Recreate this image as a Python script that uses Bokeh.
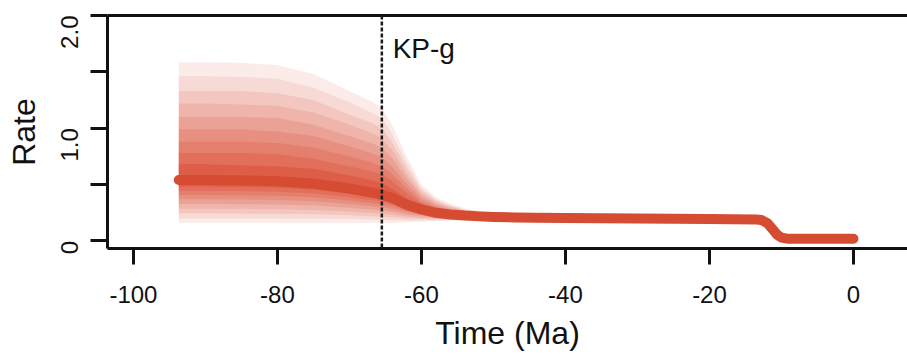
import math
from bokeh.plotting import figure
from bokeh.models import Range1d, FixedTicker, LinearAxis, Span, Label
from bokeh.embed import file_html
from bokeh.resources import INLINE

# Median rate through time (Ma, negative = past)
time = [-93.7, -90, -85, -80, -75, -70, -67, -65.5, -64, -62, -60, -58, -56, -54,
        -52, -50, -47, -44, -40, -30, -20, -13.5, -12.8, -12, -11.3, -10.6, -10,
        -9.2, -5, 0]
rate_median = [0.54, 0.54, 0.538, 0.53, 0.51, 0.465, 0.43, 0.41, 0.38, 0.32, 0.28,
               0.25, 0.235, 0.225, 0.218, 0.213, 0.208, 0.205, 0.203, 0.2, 0.195,
               0.19, 0.185, 0.16, 0.11, 0.055, 0.03, 0.02, 0.02, 0.02]

# Posterior envelopes, band 1 = widest (outermost) ... band 9 = narrowest
band_time = [-93.7, -90, -85, -80, -75, -70, -67, -65.5, -64, -62, -60, -58, -56,
             -54, -52, -50, -47, -44, -40]
upper_1 = [1.585, 1.585, 1.58, 1.56, 1.48, 1.33, 1.24, 1.18, 1.02, 0.74, 0.50, 0.39,
           0.33, 0.29, 0.27, 0.255, 0.24, 0.23, 0.215]
lower_1 = [0.16, 0.16, 0.16, 0.16, 0.16, 0.16, 0.16, 0.16, 0.16, 0.165, 0.17, 0.175,
           0.18, 0.185, 0.19, 0.19, 0.19, 0.195, 0.195]
upper_2 = [1.46, 1.46, 1.455, 1.44, 1.36, 1.23, 1.14, 1.09, 0.94, 0.69, 0.47, 0.37,
           0.32, 0.28, 0.264, 0.25, 0.236, 0.227, 0.214]
lower_2 = [0.20, 0.20, 0.20, 0.20, 0.198, 0.194, 0.19, 0.187, 0.184, 0.182, 0.182,
           0.183, 0.186, 0.189, 0.193, 0.193, 0.192, 0.196, 0.196]
upper_3 = [1.33, 1.33, 1.33, 1.31, 1.25, 1.12, 1.05, 1.0, 0.87, 0.64, 0.45, 0.356,
           0.307, 0.274, 0.258, 0.245, 0.232, 0.224, 0.212]
lower_3 = [0.245, 0.245, 0.243, 0.241, 0.237, 0.227, 0.219, 0.215, 0.208, 0.199,
           0.194, 0.191, 0.192, 0.194, 0.196, 0.195, 0.194, 0.197, 0.197]
upper_4 = [1.22, 1.22, 1.21, 1.20, 1.14, 1.03, 0.96, 0.91, 0.80, 0.59, 0.42, 0.34,
           0.30, 0.27, 0.25, 0.24, 0.23, 0.22, 0.21]
lower_4 = [0.285, 0.285, 0.285, 0.282, 0.275, 0.261, 0.249, 0.242, 0.233, 0.216,
           0.206, 0.20, 0.198, 0.198, 0.199, 0.198, 0.196, 0.198, 0.198]
upper_5 = [1.10, 1.10, 1.10, 1.09, 1.03, 0.93, 0.87, 0.83, 0.73, 0.55, 0.40, 0.326,
           0.286, 0.26, 0.246, 0.236, 0.225, 0.219, 0.209]
lower_5 = [0.327, 0.327, 0.326, 0.323, 0.314, 0.294, 0.279, 0.27, 0.257, 0.233,
           0.218, 0.208, 0.204, 0.203, 0.202, 0.20, 0.198, 0.199, 0.199]
upper_6 = [0.99, 0.99, 0.99, 0.97, 0.93, 0.84, 0.78, 0.74, 0.655, 0.50, 0.375, 0.31,
           0.276, 0.253, 0.24, 0.231, 0.222, 0.216, 0.208]
lower_6 = [0.369, 0.369, 0.368, 0.363, 0.352, 0.328, 0.308, 0.297, 0.281, 0.25, 0.23,
           0.216, 0.21, 0.207, 0.205, 0.203, 0.20, 0.20, 0.199]
upper_7 = [0.88, 0.88, 0.88, 0.87, 0.83, 0.75, 0.70, 0.66, 0.59, 0.46, 0.35, 0.30,
           0.27, 0.25, 0.235, 0.225, 0.22, 0.21, 0.205]
lower_7 = [0.407, 0.407, 0.406, 0.40, 0.387, 0.358, 0.335, 0.322, 0.303, 0.266,
           0.241, 0.224, 0.216, 0.211, 0.208, 0.205, 0.202, 0.201, 0.20]
upper_8 = [0.78, 0.78, 0.78, 0.77, 0.73, 0.66, 0.62, 0.59, 0.53, 0.42, 0.33, 0.282,
           0.257, 0.24, 0.23, 0.223, 0.215, 0.211, 0.206]
lower_8 = [0.445, 0.445, 0.443, 0.437, 0.422, 0.389, 0.362, 0.347, 0.325, 0.281,
           0.252, 0.231, 0.221, 0.215, 0.211, 0.207, 0.203, 0.202, 0.201]
upper_9 = [0.68, 0.68, 0.67, 0.66, 0.64, 0.58, 0.54, 0.51, 0.46, 0.375, 0.309, 0.268,
           0.247, 0.233, 0.225, 0.218, 0.212, 0.208, 0.205]
lower_9 = [0.483, 0.483, 0.481, 0.474, 0.457, 0.419, 0.389, 0.372, 0.347, 0.297,
           0.263, 0.239, 0.227, 0.219, 0.214, 0.21, 0.205, 0.203, 0.202]

boundary_time = -65.5
boundary_name = "KP-g"

x_ticks = [-100, -80, -60, -40, -20, 0]
x_tick_labels = ["-100", "-80", "-60", "-40", "-20", "0"]
y_ticks = [0, 0.5, 1.0, 1.5, 2.0]
y_tick_labels = ["0", "", "1.0", "", "2.0"]

FONT = "Liberation Sans"
LINE_RED = "#D64C33"
BAND_RED = "#D9482E"
INK = "#111111"

p = figure(width=907, height=362,
           x_range=Range1d(-103.6, 7.5), y_range=Range1d(-0.067, 2.0),
           output_backend="svg", toolbar_location=None,
           min_border_left=107, min_border_right=0,
           min_border_top=15, min_border_bottom=114)
p.outline_line_color = None
p.xgrid.visible = False
p.ygrid.visible = False
p.background_fill_color = "white"
p.border_fill_color = "white"

# Stacked translucent envelopes build up a smooth shade toward the median
bands = [(lower_1, upper_1, 0.10), (lower_2, upper_2, 0.111),
         (lower_3, upper_3, 0.125), (lower_4, upper_4, 0.143),
         (lower_5, upper_5, 0.167), (lower_6, upper_6, 0.20),
         (lower_7, upper_7, 0.225), (lower_8, upper_8, 0.29),
         (lower_9, upper_9, 0.455)]
for lo, hi, a in bands:
    p.varea(x=band_time, y1=lo, y2=hi, fill_color=BAND_RED, fill_alpha=a)

p.line(time, rate_median, line_color=LINE_RED, line_width=10,
       line_cap="round", line_join="round")

p.add_layout(Span(location=boundary_time, dimension="height", line_color="#1a1a1a",
                  line_width=2.5, line_dash="4 2", level="overlay"))
p.add_layout(Label(x=boundary_time + 1.5, y=1.71, text=boundary_name,
                   text_font=FONT, text_font_size="28px", text_color=INK,
                   text_baseline="alphabetic", text_align="left"))

# Axes
xax = p.xaxis[0]
xax.ticker = FixedTicker(ticks=x_ticks)
xax.major_label_overrides = dict(zip(x_ticks, x_tick_labels))
xax.axis_label = "Time (Ma)"
yax = p.yaxis[0]
yax.ticker = FixedTicker(ticks=y_ticks)
yax.major_label_overrides = dict(zip(y_ticks, y_tick_labels))
yax.axis_label = "Rate"
yax.major_label_orientation = math.pi / 2

for ax in (xax, yax):
    ax.axis_line_width = 3
    ax.axis_line_color = INK
    ax.major_tick_line_width = 3
    ax.major_tick_line_color = INK
    ax.major_tick_in = 0
    ax.minor_tick_line_color = None
    ax.major_label_text_font = FONT
    ax.major_label_text_font_size = "24px"
    ax.major_label_text_color = INK
    ax.axis_label_text_font = FONT
    ax.axis_label_text_font_size = "32px"
    ax.axis_label_text_font_style = "normal"
    ax.axis_label_text_color = INK
xax.major_tick_out = 16
xax.major_label_standoff = 21
xax.axis_label_standoff = 9
yax.major_tick_out = 17
yax.major_label_standoff = 21
yax.axis_label_standoff = 8

top = LinearAxis(ticker=FixedTicker(ticks=[]), axis_line_width=3,
                 axis_line_color=INK, major_tick_out=0, major_tick_in=0,
                 minor_tick_line_color=None, major_label_text_font_size="0px")
p.add_layout(top, "above")

open("out.html", "w").write(file_html(p, INLINE))
